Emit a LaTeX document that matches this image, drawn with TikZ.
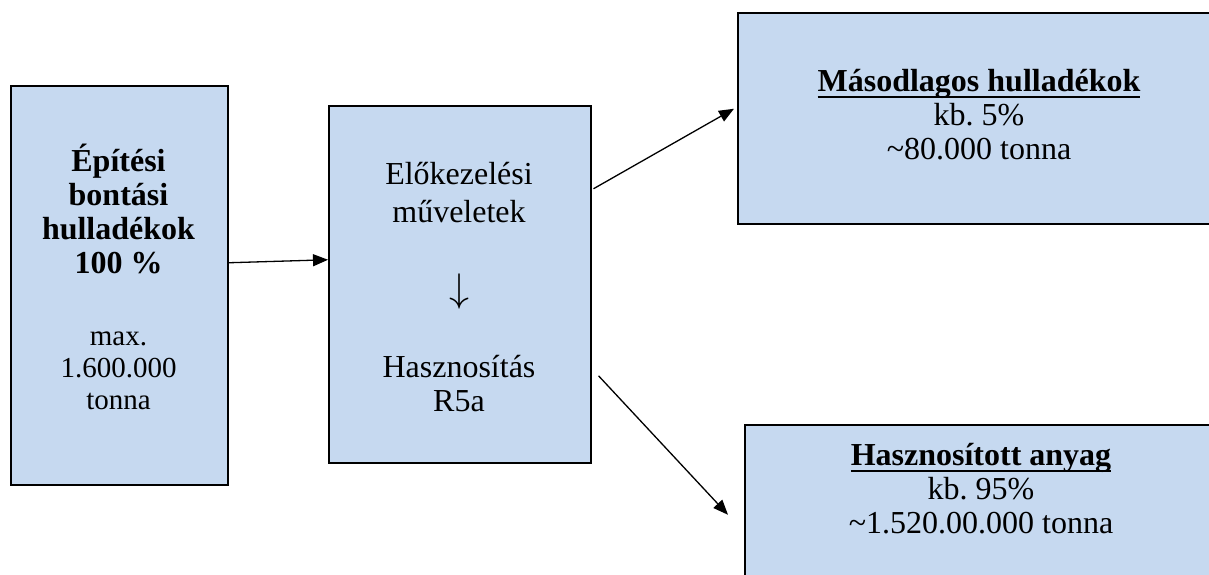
\documentclass[tikz,border=0pt]{standalone}
\usepackage{graphicx}
\usepackage{fontspec}
\setmainfont{Liberation Serif}
\frenchspacing
\newcommand{\myul}[1]{\leavevmode\setbox0\hbox{#1}\rlap{\copy0}\rule[-6.5pt]{\wd0}{2.5pt}}
\usetikzlibrary{arrows.meta}
\definecolor{boxfill}{HTML}{C6D9F0}
\begin{document}
\begin{tikzpicture}[x=1pt,y=-1pt,
  box/.style={draw=black, line width=1.5pt, fill=boxfill, inner sep=0pt, anchor=north west},
  lbl/.style={align=center, inner sep=0pt},
  big/.style={font=\fontsize{32}{34}\selectfont},
  bigb/.style={font=\fontsize{32}{34}\selectfont\bfseries},
  small/.style={font=\fontsize{29}{32}\selectfont},
  conn/.style={line width=1.3pt, -{Triangle[length=15pt,width=12pt]}}]
\useasboundingbox (0,0) rectangle (1209,574);
\clip (0,0) rectangle (1209,574);
% boxes
\node[box, minimum width=217pt, minimum height=399pt] (src) at (10,85) {};
\node[box, minimum width=262pt, minimum height=357pt] (proc) at (328,105) {};
\node[box, minimum width=484pt, minimum height=211pt] (sec) at (737,12) {};
\node[box, minimum width=477pt, minimum height=170pt] (util) at (744,424) {};
% texts
\node[lbl, bigb] (srcA) at (118.5,209) {Építési\\bontási\\hulladékok\\100 \%};
\node[lbl, small] (srcB) at (118.5,371) {max.\\1.600.000\\tonna};
\node[lbl, font=\fontsize{32}{38}\selectfont] (procA) at (459,193) {Előkezelési\\műveletek};
\node[lbl, font=\normalsize] (procArr) at (459,291) {\scalebox{4}{$\downarrow$}};
\node[lbl, big] (procB) at (459,384) {Hasznosítás\\R5a};
\node[lbl, big] (secT) at (979,115) {\myul{\textbf{Másodlagos hulladékok}}\\kb. 5\%\\\textasciitilde80.000 tonna};
\node[lbl, big] (utilT) at (981,489) {\myul{\textbf{Hasznosított anyag}}\\kb. 95\%\\\textasciitilde1.520.00.000 tonna};
% connectors
\draw[conn] ([yshift=22.5pt]src.east) -- ([yshift=24.5pt]proc.west);
\draw[conn] ([xshift=2pt,yshift=95.5pt]proc.east) -- ([xshift=-3pt,yshift=9.5pt]sec.west);
\draw[conn] ([xshift=7pt,yshift=-91.5pt]proc.east) -- ([xshift=-16pt,yshift=-5pt]util.west);
\end{tikzpicture}
\end{document}
